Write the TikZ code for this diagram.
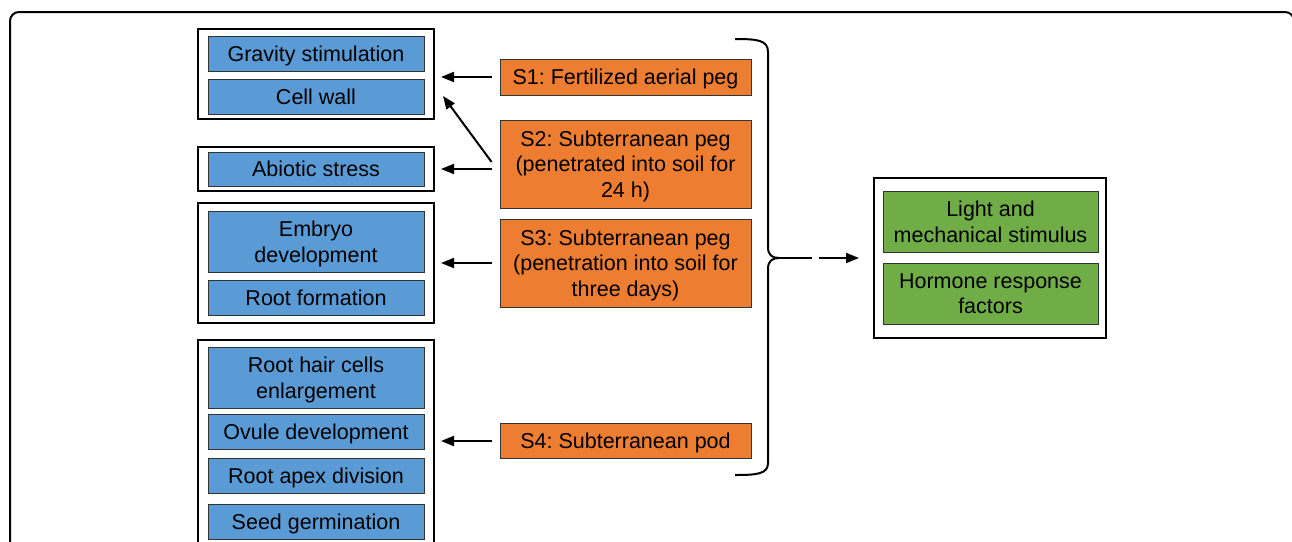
\documentclass[tikz,border=0pt]{standalone}
\usepackage{fontspec}
\setmainfont{Liberation Sans}
\usetikzlibrary{arrows.meta}
\definecolor{bluefill}{HTML}{5B9BD5}
\definecolor{orangefill}{HTML}{ED7D31}
\definecolor{greenfill}{HTML}{70AD47}
\frenchspacing
\begin{document}
\begin{tikzpicture}[x=1pt,y=-1pt,
  txt/.style={align=center, inner sep=0pt, text depth=0pt, font=\fontsize{21.5}{25.5}\selectfont},
  bluebx/.style={txt, draw=black!80, line width=0.8pt, fill=bluefill, minimum width=216pt},
  orangebx/.style={txt, draw=black!80, line width=0.8pt, fill=orangefill, minimum width=251pt},
  greenbx/.style={txt, draw=black!80, line width=0.8pt, fill=greenfill, minimum width=215pt},
  groupbx/.style={draw=black, line width=2pt, inner sep=0pt},
  arr/.style={line width=2pt, -{Triangle[length=13pt,width=10pt]}}
]
\useasboundingbox (0,0) rectangle (1292,541);
\clip (0,0) rectangle (1292,541);
\fill[white] (0,0) rectangle (1292,541);
% outer frame
\draw[line width=2pt, rounded corners=9pt] (10,12) rectangle (1294,620);

% group boxes
\node[groupbx, minimum width=236pt, minimum height=90pt] (g1) at (316,74) {};
\node[groupbx, minimum width=236pt, minimum height=44pt] (g2) at (316,169) {};
\node[groupbx, minimum width=236pt, minimum height=120.5pt] (g3) at (316,262.75) {};
\node[groupbx, minimum width=236pt, minimum height=240pt] (g4) at (316,460) {};
\node[groupbx, minimum width=232pt, minimum height=160pt] (gg) at (990,258) {};

% blue boxes
\node[bluebx, minimum height=35pt] (grav) at (316,53.5) {Gravity stimulation};
\node[bluebx, minimum height=35pt] (cell) at (316,96.5) {Cell wall};
\node[bluebx, minimum height=34pt] (abio) at (316,169) {Abiotic stress};
\node[bluebx, minimum height=61pt] (embryo) at (316,241.5) {Embryo\\development};
\node[bluebx, minimum height=35pt] (rootf) at (316,298) {Root formation};
\node[bluebx, minimum height=61pt] (roothair) at (316,377.5) {Root hair cells\\enlargement};
\node[bluebx, minimum height=35pt] (ovule) at (316,431.5) {Ovule development};
\node[bluebx, minimum height=35pt] (apex) at (316,476) {Root apex division};
\node[bluebx, minimum height=35pt] (seed) at (316,521.5) {Seed germination};

% orange boxes
\node[orangebx, minimum height=36pt] (s1) at (625.5,77) {S1: Fertilized aerial peg};
\node[orangebx, minimum height=88pt] (s2) at (625.5,164) {S2: Subterranean peg\\(penetrated into soil for\\24 h)};
\node[orangebx, minimum height=88pt] (s3) at (625.5,263) {S3: Subterranean peg\\(penetration into soil for\\three days)};
\node[orangebx, minimum height=35pt] (s4) at (625.5,441) {S4: Subterranean pod};

% green boxes
\node[greenbx, minimum height=61pt] (light) at (990.5,221.5) {Light and\\mechanical stimulus};
\node[greenbx, minimum height=61pt] (hormone) at (990.5,293.5) {Hormone response\\factors};

% arrows
\draw[arr, shorten <=8pt, shorten >=6pt] (s1.west) -- (s1.west -| g1.east);
\draw[arr, shorten <=8pt, shorten >=6pt] (abio.east -| s2.west) -- (g2.east);
\draw[arr] ([xshift=-8pt,yshift=2pt]s2.west) -- ([xshift=8pt,yshift=-22pt]g1.east);
\draw[arr, shorten <=8pt, shorten >=6pt] (s3.west) -- (s3.west -| g3.east);
\draw[arr, shorten <=8pt, shorten >=6pt] (s4.west) -- (s4.west -| g4.east);

% brace
\coordinate (btip) at (779,258);
\draw[line width=2pt, line join=round]
  (735,39) .. controls (757,39) and (768,40) .. (768,52)
  -- (768,247) .. controls (768,255) and (772,258) .. (btip)
  .. controls (772,258) and (768,261) .. (768,269)
  -- (768,463) .. controls (768,474) and (757,475) .. (735,475);
\draw[line width=2pt, dash pattern=on 33pt off 7pt on 200pt,
  -{Triangle[length=13pt,width=10pt]}, shorten >=14pt] (btip) -- (btip -| gg.west);
\end{tikzpicture}
\end{document}
